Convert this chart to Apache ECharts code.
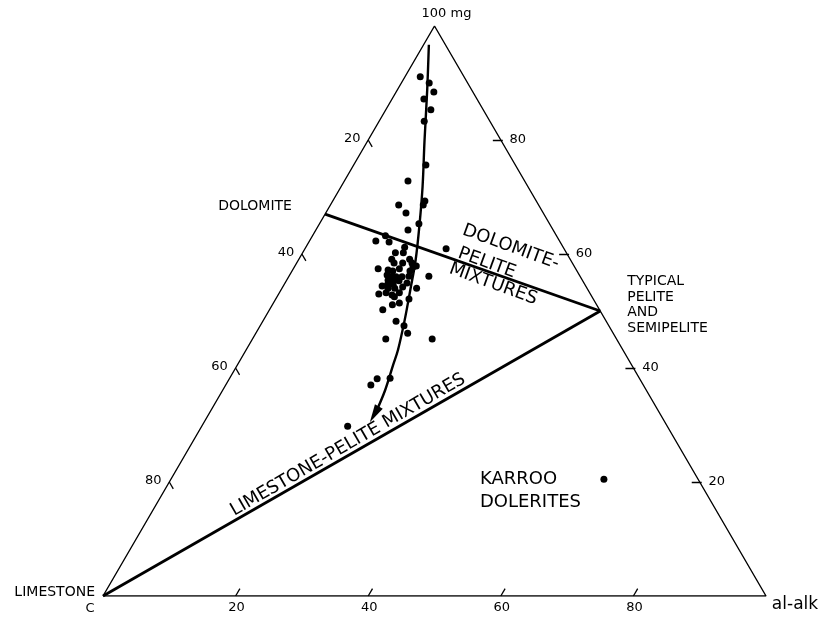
<!DOCTYPE html>
<html>
<head>
<meta charset="utf-8">
<script src="https://cdn.jsdelivr.net/npm/echarts@6/dist/echarts.min.js"></script>
<style>
  html, body { margin: 0; padding: 0; background: #ffffff; }
  #chart { width: 830px; height: 618px; }
</style>
</head>
<body>
<div id="chart"></div>
<script>
// Ternary plot: 100mg (apex), C (lower left), al-alk (lower right).
// Each analysis is given as [100mg, al-alk]; C is the remainder to 100.

// Dolomitic rocks, 100mg values
const sampleMg = [
  91.1, 90.0, 88.4, 87.2, 85.3, 83.3, 75.6, 72.8, 69.3, 68.6,
  68.6, 67.2, 65.3, 64.2, 63.2, 62.3, 62.1, 61.2, 60.9, 60.2,
  60.2, 59.1, 59.1, 58.4, 58.4, 58.4, 57.9, 57.7, 57.4, 57.2,
  57.0, 57.4, 57.0, 56.1, 56.3, 56.0, 56.0, 56.0, 56.1, 55.4,
  55.1, 55.3, 54.4, 54.6, 54.7, 54.9, 54.0, 54.0, 54.2, 54.0,
  53.0, 53.2, 52.8, 53.2, 52.5, 52.1, 51.1, 51.4, 50.2, 48.2,
  47.4, 46.1, 45.1, 45.1, 38.1, 37.0, 38.2, 29.8
];
// Dolomitic rocks, al-alk values (same order)
const sampleAl = [
   2.3,  4.2,  5.7,  4.8,  6.8,  6.8, 10.9,  9.6, 13.9, 14.0,
  10.3, 12.1, 15.0, 13.9, 11.0, 10.0, 12.1, 14.9, 21.3, 14.0,
  15.2, 14.0, 16.7, 14.7, 16.0, 17.4, 18.3, 17.9, 12.8, 14.4,
  15.2, 16.0, 17.8, 21.1, 14.7, 15.6, 17.1, 16.2, 18.1, 15.3,
  16.2, 17.0, 14.9, 15.6, 16.4, 18.4, 16.0, 17.0, 18.1, 20.3,
  15.1, 16.1, 17.2, 18.1, 17.7, 20.1, 18.1, 19.0, 17.1, 20.1,
  21.7, 22.9, 20.1, 27.1, 22.3, 21.9, 24.2, 22.0
];

// Trend arrow through the analyses (last point is the arrow tip)
const trendMg = [96.7, 88.8, 80.0, 71.8, 65.3, 58.9, 53.7, 48.4, 43.2, 40.5, 36.1, 32.6, 30.5];
const trendAl = [ 0.8,  4.5,  8.5, 12.3, 15.1, 17.7, 19.5, 21.3, 22.9, 23.5, 24.5, 25.0, 25.0];

// Karroo dolerites
const doleriteMg = [20.5];
const doleriteAl = [65.3];

// End-members of the mixing lines: [100mg, al-alk]
const dolomitePt = [67, 0];
const pelitePt = [50, 50];
const limestonePt = [0, 0];

const tickValues = [20, 40, 60, 80];

const S3 = Math.sqrt(3) / 2;
// ternary [mg, al] -> cartesian [x, y]
function xy(mg, al) { return [al + mg / 2, mg * S3]; }

const INK = '#000000';
const FONT = 'DejaVu Sans';

const samplePts = sampleMg.map((m, i) => xy(m, sampleAl[i]));
const trendPts = trendMg.map((m, i) => xy(m, trendAl[i]));
const dolerite = doleriteMg.map((m, i) => xy(m, doleriteAl[i]));

// tick marks on the three edges
const tickSegs = [];
const tickLabels = [];
tickValues.forEach(v => {
  // base: al-alk
  tickSegs.push({ coords: [xy(0, v), xy(1.3, v)] });
  tickLabels.push({ value: xy(0, v).concat(String(v)), label: { offset: [1, 12] } });
  // left edge: C
  tickSegs.push({ coords: [xy(100 - v, 0), xy(100 - v - 1.2, 1.2)] });
  tickLabels.push({ value: xy(100 - v, 0).concat(String(v)), label: { offset: [-16, -1] } });
  // right edge: 100mg
  tickSegs.push({ coords: [xy(v, 100 - v + 0.3), xy(v, 100 - v - 1.2)] });
  tickLabels.push({ value: xy(v, 100 - v).concat(String(v)), label: { offset: [17, 0] } });
});

function textItem(pt, text, extra) {
  return {
    value: pt,
    label: Object.assign({
      show: true, position: 'inside', formatter: text,
      color: INK, fontFamily: FONT, fontSize: 14,
      align: 'center', verticalAlign: 'middle'
    }, extra)
  };
}

const annotations = [
  textItem(xy(100, 0), '100 mg', { offset: [12, -12], fontSize: 13 }),
  textItem(xy(0, 0), 'LIMESTONE', { offset: [-8, -4], align: 'right', fontSize: 14 }),
  textItem(xy(0, 0), 'C', { offset: [-13, 13], fontSize: 13 }),
  textItem(xy(0, 100), 'al-alk', { offset: [29, 9], fontSize: 17 }),
  textItem(xy(dolomitePt[0], dolomitePt[1]), 'DOLOMITE', { offset: [-70, -8] }),
  textItem(xy(pelitePt[0], pelitePt[1]), 'TYPICAL\nPELITE\nAND\nSEMIPELITE',
    { offset: [27, -37], align: 'left', verticalAlign: 'top', lineHeight: 15.5 }),
  textItem(dolerite[0], 'KARROO\nDOLERITES',
    { offset: [-124, -11], align: 'left', verticalAlign: 'top', lineHeight: 23, fontSize: 18 }),
  textItem(xy(61.2, 30.9), 'DOLOMITE-', { rotate: -20, fontSize: 18 }),
  textItem(xy(58.4, 28.7), 'PELITE', { rotate: -20, fontSize: 18 }),
  textItem(xy(54.7, 31.5), 'MIXTURES', { rotate: -20, fontSize: 18 }),
  textItem(xy(26.5, 23.7), 'LIMESTONE-PELITE MIXTURES', { rotate: 30, fontSize: 18 })
];

const solid = { color: INK, opacity: 1 };
const hidden = { color: 'rgba(0,0,0,0)', opacity: 1 };

const chart = echarts.init(document.getElementById('chart'), null, { renderer: 'canvas' });
chart.setOption({
  animation: false,
  backgroundColor: '#ffffff',
  grid: { left: 103, right: 64, top: 26, bottom: 22 },
  xAxis: { type: 'value', min: 0, max: 100, show: false },
  yAxis: { type: 'value', min: 0, max: 100 * S3, show: false },
  series: [
    {
      name: 'frame', type: 'line', silent: true, symbol: 'none',
      data: [xy(0, 0), xy(100, 0), xy(0, 100), xy(0, 0)],
      lineStyle: { color: INK, width: 1.4 }
    },
    {
      name: 'dolomite-pelite', type: 'line', silent: true, symbol: 'none',
      data: [xy(dolomitePt[0], dolomitePt[1]), xy(pelitePt[0], pelitePt[1])],
      lineStyle: { color: INK, width: 2.8 }
    },
    {
      name: 'limestone-pelite', type: 'line', silent: true, symbol: 'none',
      data: [xy(limestonePt[0], limestonePt[1]), xy(pelitePt[0], pelitePt[1])],
      lineStyle: { color: INK, width: 2.8 }
    },
    {
      name: 'ticks', type: 'lines', coordinateSystem: 'cartesian2d', silent: true,
      data: tickSegs, lineStyle: { color: INK, width: 1.3, opacity: 1 }
    },
    {
      name: 'tick labels', type: 'scatter', silent: true, symbolSize: 1,
      itemStyle: hidden,
      label: {
        show: true, position: 'inside', formatter: p => p.value[2],
        color: INK, fontFamily: FONT, fontSize: 13, align: 'center', verticalAlign: 'middle'
      },
      data: tickLabels
    },
    {
      // shaft stops just behind the arrow tip
      name: 'trend', type: 'line', silent: true, symbol: 'none', smooth: 0.35,
      data: trendPts.slice(0, trendPts.length - 1),
      lineStyle: { color: INK, width: 2.4 }
    },
    {
      // narrow filled arrowhead at the trend tip, pointing down-left
      name: 'arrowhead', type: 'scatter', silent: true,
      symbol: 'path://M0 0 L5 18 L-5 18 Z', symbolSize: [9, 18],
      symbolRotate: 150, symbolOffset: [4.5, -7.8],
      itemStyle: solid,
      data: trendPts.slice(trendPts.length - 1)
    },
    {
      name: 'analyses', type: 'scatter', silent: true, symbol: 'circle', symbolSize: 7,
      itemStyle: solid, data: samplePts
    },
    {
      name: 'Karroo dolerites', type: 'scatter', silent: true, symbol: 'circle', symbolSize: 7,
      itemStyle: solid, data: dolerite
    },
    {
      name: 'annotations', type: 'scatter', silent: true, symbolSize: 1,
      itemStyle: hidden, data: annotations
    }
  ]
});
</script>
</body>
</html>
